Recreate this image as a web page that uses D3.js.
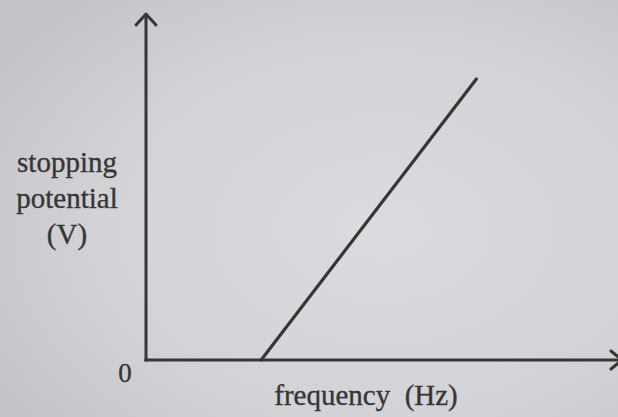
<!DOCTYPE html>
<html>
<head>
<meta charset="utf-8">
<script src="https://cdn.jsdelivr.net/npm/d3@7"></script>
<style>
  html, body { margin: 0; padding: 0; }
  body { width: 618px; height: 417px; overflow: hidden; }
  svg { display: block; }
</style>
</head>
<body>
<script>
// Stopping potential vs. frequency (photoelectric effect)
const frequency = [2.44, 7.0];        // arbitrary units: threshold frequency -> upper end
const potential = [0, 8.1];           // stopping potential at those frequencies
const yLabelLines = ["stopping", "potential", "(V)"];
const xLabel = "frequency\u2002(Hz)";
const originLabel = "0";

const W = 618, H = 417;
const ink = "#363636";

const svg = d3.select("body").append("svg")
  .attr("width", W).attr("height", H);

// paper background with soft uneven lighting
const defs = svg.append("defs");
const grad = defs.append("radialGradient")
  .attr("id", "paper").attr("cx", "62%").attr("cy", "55%").attr("r", "75%");
grad.append("stop").attr("offset", "0%").attr("stop-color", "#dcdce0");
grad.append("stop").attr("offset", "60%").attr("stop-color", "#d3d3d7");
grad.append("stop").attr("offset", "100%").attr("stop-color", "#c3c3c8");
svg.append("rect").attr("width", W).attr("height", H).attr("fill", "url(#paper)");

const x = d3.scaleLinear().domain([0, 10]).range([146, 618]);
const y = d3.scaleLinear().domain([0, 10]).range([360, 13]);

const g = svg.append("g");

// axes
g.append("line")
  .attr("x1", x(0)).attr("y1", y(0) + 1.5)
  .attr("x2", x(0)).attr("y2", y(10) + 1)
  .attr("stroke", ink).attr("stroke-width", 3);
g.append("line")
  .attr("x1", x(0) - 1.5).attr("y1", y(0))
  .attr("x2", x(10) + 4).attr("y2", y(0))
  .attr("stroke", ink).attr("stroke-width", 3);

// arrowheads
g.append("path")
  .attr("d", `M${x(0) - 10},${y(10) + 12} L${x(0)},${y(10) + 1} L${x(0) + 10},${y(10) + 12}`)
  .attr("fill", "none").attr("stroke", ink).attr("stroke-width", 3)
  .attr("stroke-linecap", "round").attr("stroke-linejoin", "round");
g.append("path")
  .attr("d", `M${x(10) - 7},${y(0) - 9} L${x(10) + 4},${y(0)} L${x(10) - 7},${y(0) + 9}`)
  .attr("fill", "none").attr("stroke", ink).attr("stroke-width", 3)
  .attr("stroke-linecap", "round").attr("stroke-linejoin", "round");

// data line
const pts = frequency.map((f, i) => [f, potential[i]]);
g.append("path")
  .datum(pts)
  .attr("d", d3.line().x(d => x(d[0])).y(d => y(d[1])))
  .attr("fill", "none").attr("stroke", ink).attr("stroke-width", 3.2)
  .attr("stroke-linecap", "round");

// labels
const font = "'Liberation Serif', 'Times New Roman', serif";
const label = sel => sel
  .attr("text-anchor", "middle")
  .attr("font-family", font).attr("font-size", 29).attr("fill", ink)
  .attr("stroke", ink).attr("stroke-width", 0.35);

g.append("text")
  .attr("x", 125).attr("y", 382)
  .call(label).attr("font-size", 27)
  .text(originLabel);

g.append("text")
  .attr("x", 366).attr("y", 405)
  .call(label)
  .text(xLabel);

g.append("g").selectAll("text")
  .data(yLabelLines).join("text")
  .attr("x", 67).attr("y", (d, i) => 172 + i * 36)
  .call(label)
  .text(d => d);
</script>
</body>
</html>
